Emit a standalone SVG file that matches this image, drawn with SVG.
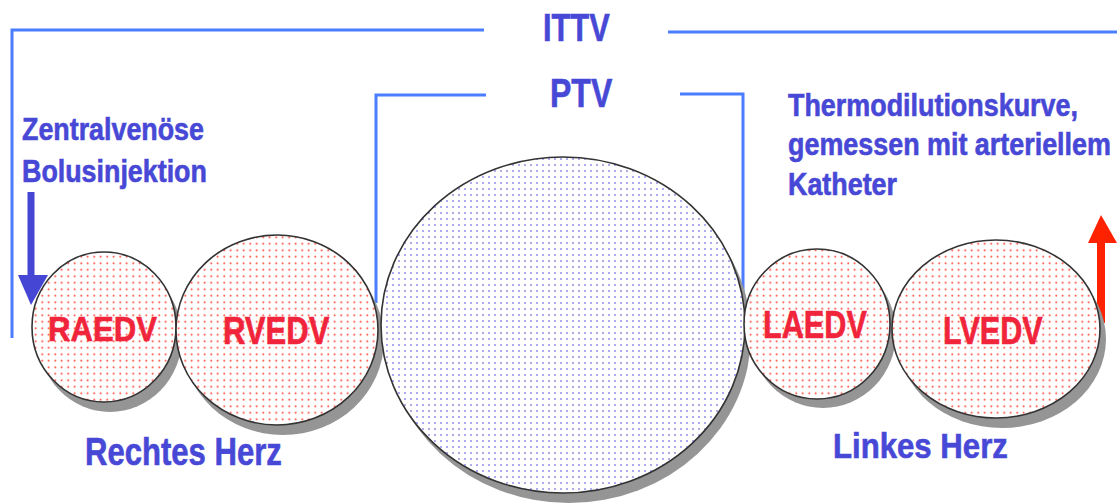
<svg xmlns="http://www.w3.org/2000/svg" width="1119" height="504" viewBox="0 0 1119 504">
  <defs>
    <pattern id="dotsRed" width="6.5" height="6.5" patternUnits="userSpaceOnUse">
      <rect width="6.5" height="6.5" fill="#ffffff"/>
      <circle cx="3.2" cy="3.2" r="0.9" fill="#ff2a1a"/>
    </pattern>
    <pattern id="dotsBlue" width="6" height="6" patternUnits="userSpaceOnUse">
      <rect width="6" height="6" fill="#ffffff"/>
      <circle cx="3" cy="3" r="0.8" fill="#4444d8"/>
    </pattern>
    <filter id="soft" x="-10%" y="-10%" width="120%" height="120%">
      <feGaussianBlur stdDeviation="0.7"/>
    </filter>
  </defs>
  <style>
    .bracket { fill: none; stroke: #4a7dff; stroke-width: 3; }
    .shadow { fill: #959595; filter: url(#soft); }
    .chamber { stroke: #333333; stroke-width: 1.6; }
    .red { fill: url(#dotsRed); }
    .blue { fill: url(#dotsBlue); }
    .lbl { font-family: "Liberation Sans", Arial, sans-serif; font-weight: bold; fill: #4848d6; stroke: #4848d6; stroke-width: 0.6; }
    .vol { font-family: "Liberation Sans", Arial, sans-serif; font-weight: bold; fill: #f0243a; stroke: #f0243a; stroke-width: 0.6; }
  </style>

  <rect width="1119" height="504" fill="#ffffff"/>

  <!-- volume brackets and arrows -->
  <g id="connectors">
    <path class="bracket" d="M12,338 V30 H484"/>
    <path class="bracket" d="M668,32 H1117"/>
    <path class="bracket" d="M376,303 V95 H486"/>
    <path class="bracket" d="M680,94 H743 V297"/>
    <!-- injection arrow -->
    <g id="injection-arrow" fill="#4646d4">
      <rect x="27.5" y="192" width="7" height="84"/>
      <polygon points="18,275 48,275 31,305"/>
    </g>
    <!-- measurement arrow -->
    <g id="measure-arrow" fill="#ff2200">
      <rect x="1097" y="242" width="8" height="81"/>
      <polygon points="1088,243 1117,243 1101,215"/>
    </g>
  </g>

  <!-- shadows behind all chambers -->
  <g id="shadows">
    <ellipse class="shadow" cx="110" cy="337" rx="72" ry="75"/>
    <ellipse class="shadow" cx="283" cy="340" rx="101" ry="95"/>
    <ellipse class="shadow" cx="569" cy="335" rx="182" ry="168"/>
    <ellipse class="shadow" cx="823" cy="333" rx="73" ry="75"/>
    <ellipse class="shadow" cx="1002" cy="339" rx="104" ry="89"/>
  </g>

  <g id="raedv">
    <ellipse class="chamber red" cx="104" cy="327" rx="72" ry="75"/>
    <text class="vol" transform="translate(48,341) scale(0.865,1)" font-size="36">RAEDV</text>
  </g>
  <g id="rvedv">
    <ellipse class="chamber red" cx="277" cy="330" rx="101" ry="95"/>
    <text class="vol" transform="translate(223,344) scale(0.817,1)" font-size="38">RVEDV</text>
  </g>
  <g id="ptv">
    <ellipse class="chamber blue" cx="563" cy="325" rx="182" ry="168"/>
  </g>
  <g id="laedv">
    <ellipse class="chamber red" cx="817" cy="324" rx="73" ry="75"/>
    <text class="vol" transform="translate(763,338) scale(0.807,1)" font-size="38">LAEDV</text>
  </g>
  <g id="lvedv">
    <ellipse class="chamber red" cx="996" cy="329" rx="104" ry="89"/>
    <text class="vol" transform="translate(943,344) scale(0.805,1)" font-size="38">LVEDV</text>
  </g>

  <!-- labels -->
  <g id="labels">
    <text class="lbl" transform="translate(543,41) scale(0.79,1)" font-size="39">ITTV</text>
    <text class="lbl" transform="translate(550,107) scale(0.8,1)" font-size="40">PTV</text>
    <text class="lbl" transform="translate(22,140) scale(0.866,1)" font-size="31">Zentralvenöse</text>
    <text class="lbl" transform="translate(22,182) scale(0.866,1)" font-size="31">Bolusinjektion</text>
    <text class="lbl" transform="translate(788,116) scale(0.868,1)" font-size="31">Thermodilutionskurve,</text>
    <text class="lbl" transform="translate(788,155) scale(0.868,1)" font-size="31">gemessen mit arteriellem</text>
    <text class="lbl" transform="translate(788,195) scale(0.867,1)" font-size="31">Katheter</text>
    <text class="lbl" transform="translate(85,465) scale(0.818,1)" font-size="38">Rechtes Herz</text>
    <text class="lbl" transform="translate(833,458) scale(0.89,1)" font-size="35">Linkes Herz</text>
  </g>
</svg>
